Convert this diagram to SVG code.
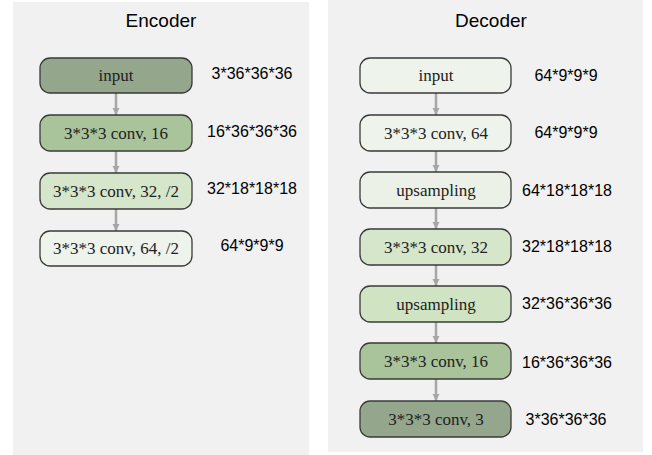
<svg xmlns="http://www.w3.org/2000/svg" width="652" height="455" viewBox="0 0 652 455">
<style>
.panel{fill:#f1f1f1}
.title{font-family:"Liberation Sans",Arial,sans-serif;font-size:19px;fill:#000;text-anchor:middle}
.box{stroke:#3a3a3a;stroke-width:1.3}
.nt{font-family:"Liberation Serif","Times New Roman",serif;font-size:17px;fill:#222;text-anchor:middle}
.lb{font-family:"Liberation Sans",Arial,sans-serif;font-size:16px;fill:#000;text-anchor:middle}
.c1{fill:#94a68c}.c2{fill:#a9c39b}.c3{fill:#d5e6ca}.c4{fill:#eef3eb}
.conn line{stroke:#a6a6a6;stroke-width:2.5;marker-end:url(#ah)}
</style>
<defs>
<marker id="ah" viewBox="0 0 10 10" refX="10" refY="5" markerWidth="3" markerHeight="3" orient="auto" markerUnits="strokeWidth">
<path d="M0,0 L10,5 L0,10 z" fill="#a6a6a6"/>
</marker>
</defs>
<rect class="panel" x="13" y="2" width="296" height="453"/>
<rect class="panel" x="328" y="0" width="315" height="452"/>
<text class="title" x="161" y="27">Encoder</text>
<text class="title" x="491" y="27">Decoder</text>
<g class="conn">
<line x1="116" y1="93" x2="116" y2="115"/>
<line x1="116" y1="151" x2="116" y2="173"/>
<line x1="116" y1="209" x2="116" y2="231"/>
<line x1="436" y1="93" x2="436" y2="115"/>
<line x1="436" y1="151" x2="436" y2="172"/>
<line x1="436" y1="208" x2="436" y2="229"/>
<line x1="436" y1="265" x2="436" y2="286"/>
<line x1="436" y1="322" x2="436" y2="343"/>
<line x1="436" y1="379" x2="436" y2="401"/>
</g>
<g id="enc-input"><rect class="box c1" x="40" y="58" width="152" height="35" rx="10"/><text class="nt" x="116" y="81">input</text><text class="lb" x="252" y="79">3*36*36*36</text></g>
<g id="enc-conv16"><rect class="box c2" x="40" y="115" width="152" height="36" rx="10"/><text class="nt" x="116" y="139">3*3*3 conv, 16</text><text class="lb" x="252" y="137">16*36*36*36</text></g>
<g id="enc-conv32"><rect class="box c3" x="40" y="173" width="152" height="36" rx="10"/><text class="nt" x="116" y="197">3*3*3 conv, 32, /2</text><text class="lb" x="252" y="194">32*18*18*18</text></g>
<g id="enc-conv64"><rect class="box c4" x="40" y="231" width="152" height="35" rx="10"/><text class="nt" x="116" y="254">3*3*3 conv, 64, /2</text><text class="lb" x="252" y="251">64*9*9*9</text></g>
<g id="dec-input"><rect class="box c4" x="360" y="58" width="151" height="35" rx="10"/><text class="nt" x="436" y="81">input</text><text class="lb" x="566" y="81">64*9*9*9</text></g>
<g id="dec-conv64"><rect class="box c4" x="360" y="115" width="151" height="36" rx="10"/><text class="nt" x="436" y="139">3*3*3 conv, 64</text><text class="lb" x="566" y="138">64*9*9*9</text></g>
<g id="dec-up1"><rect class="box" fill="#ebf1e6" x="360" y="172" width="151" height="36" rx="10"/><text class="nt" x="436" y="196">upsampling</text><text class="lb" x="567" y="196">64*18*18*18</text></g>
<g id="dec-conv32"><rect class="box c3" x="360" y="229" width="151" height="36" rx="10"/><text class="nt" x="436" y="253">3*3*3 conv, 32</text><text class="lb" x="567" y="252">32*18*18*18</text></g>
<g id="dec-up2"><rect class="box" fill="#d0e3c3" x="360" y="286" width="151" height="36" rx="10"/><text class="nt" x="436" y="310">upsampling</text><text class="lb" x="567" y="309">32*36*36*36</text></g>
<g id="dec-conv16"><rect class="box c2" x="360" y="343" width="151" height="36" rx="10"/><text class="nt" x="436" y="367">3*3*3 conv, 16</text><text class="lb" x="567" y="368">16*36*36*36</text></g>
<g id="dec-conv3"><rect class="box c1" x="360" y="401" width="151" height="36" rx="10"/><text class="nt" x="436" y="425">3*3*3 conv, 3</text><text class="lb" x="566" y="425">3*36*36*36</text></g>
</svg>
